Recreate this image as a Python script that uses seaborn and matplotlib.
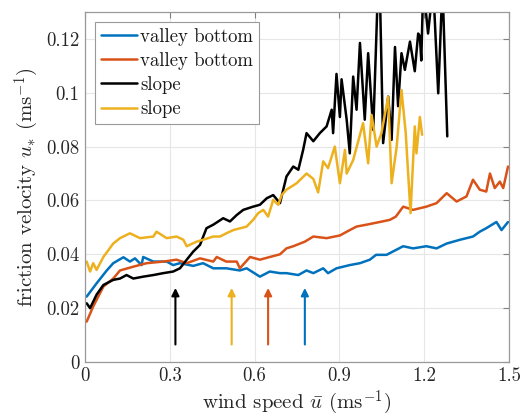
import numpy as np
import pandas as pd
import matplotlib
matplotlib.use("Agg")
import matplotlib.pyplot as plt
import seaborn as sns

# ---- data ----
blue_x = [0.006, 0.041, 0.077, 0.100, 0.136, 0.159, 0.177, 0.200, 0.206, 0.242, 0.289, 0.312, 0.336,
          0.383, 0.418, 0.454, 0.500, 0.548, 0.572, 0.619, 0.654, 0.690, 0.713, 0.755, 0.784, 0.808,
          0.843, 0.860, 0.890, 0.937, 0.973, 1.008, 1.030, 1.067, 1.126, 1.161, 1.208, 1.244, 1.280,
          1.327, 1.373, 1.397, 1.420, 1.456, 1.474, 1.497]
blue_y = [0.0243, 0.0292, 0.0340, 0.0367, 0.0389, 0.0373, 0.0385, 0.0360, 0.0390, 0.0373, 0.0373, 0.0360,
          0.0367, 0.0357, 0.0367, 0.0348, 0.0348, 0.0340, 0.0348, 0.0317, 0.0336, 0.0330, 0.0330, 0.0323,
          0.0340, 0.0330, 0.0348, 0.0330, 0.0348, 0.0360, 0.0367, 0.0380, 0.0398, 0.0398, 0.0430, 0.0422,
          0.0430, 0.0422, 0.0440, 0.0454, 0.0466, 0.0484, 0.0497, 0.0520, 0.0490, 0.0520]

orange_x = [0.006, 0.029, 0.065, 0.100, 0.124, 0.171, 0.218, 0.277, 0.324, 0.360, 0.407, 0.454, 0.466,
            0.500, 0.537, 0.548, 0.584, 0.619, 0.654, 0.690, 0.713, 0.737, 0.778, 0.808, 0.855, 0.902,
            0.937, 0.961, 0.996, 1.043, 1.079, 1.100, 1.126, 1.161, 1.208, 1.244, 1.280, 1.315, 1.350,
            1.373, 1.397, 1.420, 1.433, 1.450, 1.468, 1.480, 1.497]
orange_y = [0.0150, 0.0206, 0.0280, 0.0310, 0.0340, 0.0354, 0.0367, 0.0373, 0.0380, 0.0367, 0.0385, 0.0373,
            0.0390, 0.0373, 0.0373, 0.0348, 0.0390, 0.0380, 0.0390, 0.0400, 0.0422, 0.0430, 0.0447, 0.0466,
            0.0460, 0.0470, 0.0490, 0.0503, 0.0510, 0.0520, 0.0528, 0.0540, 0.0577, 0.0565, 0.0577, 0.0590,
            0.0627, 0.0596, 0.0615, 0.0677, 0.0640, 0.0633, 0.0700, 0.0646, 0.0670, 0.0646, 0.0726]

black_x = [0.006, 0.018, 0.041, 0.065, 0.100, 0.124, 0.147, 0.171, 0.206, 0.242, 0.277, 0.312, 0.336,
           0.360, 0.383, 0.407, 0.430, 0.454, 0.489, 0.513, 0.537, 0.560, 0.595, 0.619, 0.643, 0.666,
           0.690, 0.713, 0.737, 0.755, 0.772, 0.784, 0.808, 0.831, 0.855, 0.873, 0.878, 0.890, 0.902,
           0.908, 0.926, 0.937, 0.949, 0.961, 0.973, 0.990, 1.002, 1.020, 1.037, 1.043, 1.055, 1.073,
           1.085, 1.097, 1.108, 1.120, 1.132, 1.150, 1.167, 1.179, 1.185, 1.190, 1.197, 1.214, 1.232,
           1.250, 1.265, 1.282]
black_y = [0.0218, 0.0200, 0.0250, 0.0286, 0.0305, 0.0310, 0.0323, 0.0310, 0.0317, 0.0323, 0.0330, 0.0336,
           0.0348, 0.0380, 0.0410, 0.0435, 0.0497, 0.0510, 0.0534, 0.0522, 0.0546, 0.0565, 0.0577, 0.0584,
           0.0608, 0.0620, 0.0590, 0.0689, 0.0726, 0.0714, 0.0788, 0.0850, 0.0820, 0.0850, 0.0875, 0.0937,
           0.0850, 0.1070, 0.0910, 0.1050, 0.0900, 0.0775, 0.1060, 0.0937, 0.1185, 0.0900, 0.1147, 0.0862,
           0.1400, 0.1400, 0.0813, 0.0986, 0.0825, 0.1170, 0.0950, 0.1147, 0.1085, 0.1190, 0.1080, 0.1220,
           0.1210, 0.1120, 0.1400, 0.1220, 0.1400, 0.0998, 0.1400, 0.0838]

yellow_x = [0.006, 0.018, 0.029, 0.041, 0.065, 0.100, 0.124, 0.159, 0.195, 0.242, 0.253, 0.289, 0.324,
            0.348, 0.360, 0.395, 0.418, 0.454, 0.478, 0.500, 0.525, 0.572, 0.595, 0.613, 0.631, 0.648,
            0.666, 0.684, 0.696, 0.713, 0.749, 0.784, 0.808, 0.825, 0.843, 0.860, 0.884, 0.902, 0.920,
            0.926, 0.949, 0.984, 1.002, 1.014, 1.032, 1.049, 1.073, 1.085, 1.103, 1.120, 1.135, 1.152,
            1.167, 1.173, 1.185, 1.193]
yellow_y = [0.0373, 0.0336, 0.0367, 0.0342, 0.0390, 0.0440, 0.0460, 0.0478, 0.0460, 0.0466, 0.0484, 0.0460,
            0.0466, 0.0454, 0.0430, 0.0447, 0.0454, 0.0466, 0.0466, 0.0478, 0.0490, 0.0503, 0.0528, 0.0553,
            0.0565, 0.0540, 0.0602, 0.0584, 0.0620, 0.0640, 0.0664, 0.0700, 0.0680, 0.0630, 0.0745, 0.0720,
            0.0800, 0.0664, 0.0788, 0.0700, 0.0750, 0.0887, 0.0738, 0.0918, 0.0800, 0.0850, 0.0986, 0.0664,
            0.0800, 0.1010, 0.0850, 0.0553, 0.0875, 0.0775, 0.0910, 0.0844]

labels = ["valley bottom", "valley bottom", "slope", "slope"]
colors = ["#0072BD", "#D95319", "#000000", "#EDB120"]

arrow_x = [0.32, 0.519, 0.648, 0.778]
arrow_colors = ["#000000", "#EDB120", "#D95319", "#0072BD"]
arrow_y0, arrow_y1 = 0.0065, 0.0275

xticks = [0, 0.3, 0.6, 0.9, 1.2, 1.5]
xticklabels = ["0", "0.3", "0.6", "0.9", "1.2", "1.5"]
yticks = [0, 0.02, 0.04, 0.06, 0.08, 0.1, 0.12]
yticklabels = ["0", "0.02", "0.04", "0.06", "0.08", "0.1", "0.12"]

# ---- style ----
sns.set_style("white")
plt.rcParams["font.family"] = ["serif"]
plt.rcParams["font.serif"] = ["cmr10", "DejaVu Serif"]
plt.rcParams["mathtext.fontset"] = "cm"
plt.rcParams["axes.formatter.use_mathtext"] = True
plt.rcParams["axes.unicode_minus"] = False

fig = plt.figure(figsize=(5.23, 4.16), dpi=100)
ax = fig.add_axes([0.1625, 0.1298, 0.8105, 0.8414])

series = [(blue_x, blue_y), (orange_x, orange_y), (black_x, black_y), (yellow_x, yellow_y)]
for (sx, sy), lab, col in zip(series, labels, colors):
    df = pd.DataFrame({"x": sx, "y": sy})
    sns.lineplot(data=df, x="x", y="y", ax=ax, color=col, lw=1.8, label=lab,
                 sort=False, estimator=None)

for ax_x, ac in zip(arrow_x, arrow_colors):
    ax.annotate("", xy=(ax_x, arrow_y1), xytext=(ax_x, arrow_y0),
                arrowprops=dict(arrowstyle="-|>", color=ac, lw=1.5, mutation_scale=11,
                                shrinkA=0, shrinkB=0))

ax.set_xlim(0, 1.5)
ax.set_ylim(0, 0.13)
ax.set_xticks(xticks)
ax.set_xticklabels(xticklabels)
ax.set_yticks(yticks)
ax.set_yticklabels(yticklabels)
ax.grid(True, color="#e6e6e6", lw=0.8)
ax.set_axisbelow(True)
ax.tick_params(direction="in", length=4, width=0.8, color="0.5", labelsize=13.5,
               top=True, right=True, labelcolor="0.15", pad=4)
for sp in ax.spines.values():
    sp.set_color("0.6")
    sp.set_linewidth(0.9)

ax.set_xlabel(r"wind speed $\bar{u}$ (ms$^{-1}$)", fontsize=15, color="0.15", labelpad=2)
ax.set_ylabel(r"friction velocity $u_{*}$ (ms$^{-1}$)", fontsize=15, color="0.15", labelpad=4)

leg = ax.legend(loc="upper left", fontsize=13.5, frameon=True, fancybox=False,
                edgecolor="0.6", framealpha=1, handlelength=1.9, handletextpad=0.2,
                borderpad=0.3, labelspacing=0.33, borderaxespad=0.55)
leg.get_frame().set_linewidth(0.8)
for t in leg.get_texts():
    t.set_color("0.1")

fig.savefig("out.png", dpi=100)
